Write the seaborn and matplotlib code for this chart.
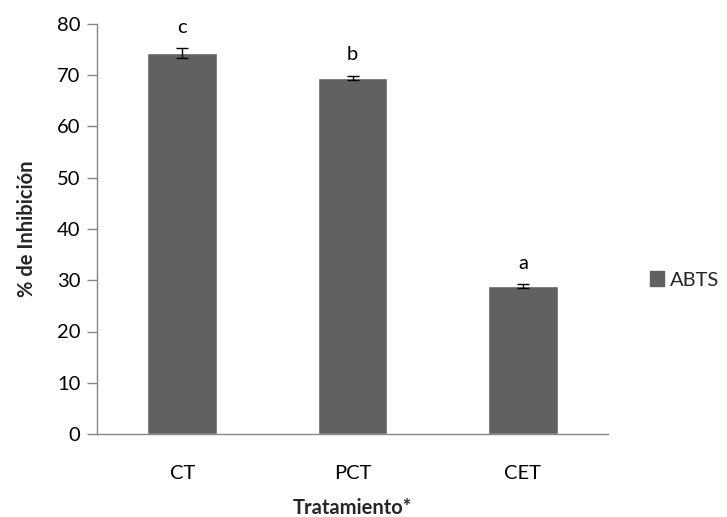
import matplotlib
matplotlib.use("Agg")
import matplotlib.pyplot as plt
import seaborn as sns
import pandas as pd
from matplotlib.patches import Patch

categories = ["CT", "PCT", "CET"]
values = [74.3, 69.5, 28.8]
errors = [1.0, 0.4, 0.4]
letters = ["c", "b", "a"]
series_name = "ABTS"
yticks = [0, 10, 20, 30, 40, 50, 60, 70, 80]

sns.set_theme(style="white")
plt.rcParams['font.family'] = ['Lato', 'DejaVu Sans']

df = pd.DataFrame({"Tratamiento": categories, "valor": values, "serie": series_name})

fig = plt.figure(figsize=(7.27, 5.17), dpi=100)
ax = fig.add_axes([97/727, 1-434/517, (608-97)/727, (434-24)/517])

bar_color = "#616161"
fs = 14.5
sns.barplot(data=df, x="Tratamiento", y="valor", hue="serie", palette=[bar_color],
            width=0.41, ax=ax, errorbar=None, legend=False, saturation=1)

for i, (v, e, l) in enumerate(zip(values, errors, letters)):
    ax.errorbar(i, v, yerr=e, fmt="none", ecolor="black", elinewidth=1.0, capsize=4, capthick=1.0)
    ax.text(i, v + e + 2.4, l, ha="center", va="bottom", fontsize=fs, color="black")

ax.set_xlim(-0.5, 2.5)
ax.set_ylim(0, 80)
ax.set_yticks(yticks)
ax.tick_params(axis="y", labelsize=fs, length=7, width=1, color="#868686", direction="out", pad=5, left=True)
ax.tick_params(axis="x", labelsize=fs, length=0, pad=22)
for lab in ax.get_xticklabels() + ax.get_yticklabels():
    lab.set_color("black")

for s in ["top", "right"]:
    ax.spines[s].set_visible(False)
for s in ["left", "bottom"]:
    ax.spines[s].set_color("#868686")
    ax.spines[s].set_linewidth(1.0)

ax.set_ylabel("% de Inhibición", fontsize=fs, fontweight="bold", labelpad=14)
ax.set_xlabel("Tratamiento*", fontsize=fs, fontweight="bold", labelpad=12)

fig.legend(handles=[Patch(facecolor=bar_color, edgecolor=bar_color, label=series_name)],
           loc="center left", bbox_to_anchor=(650/727, 1-280/517), frameon=False,
           borderpad=0, borderaxespad=0,
           fontsize=fs, handlelength=0.7, handleheight=0.7, handletextpad=0.3)

fig.savefig("out.png", dpi=100)
